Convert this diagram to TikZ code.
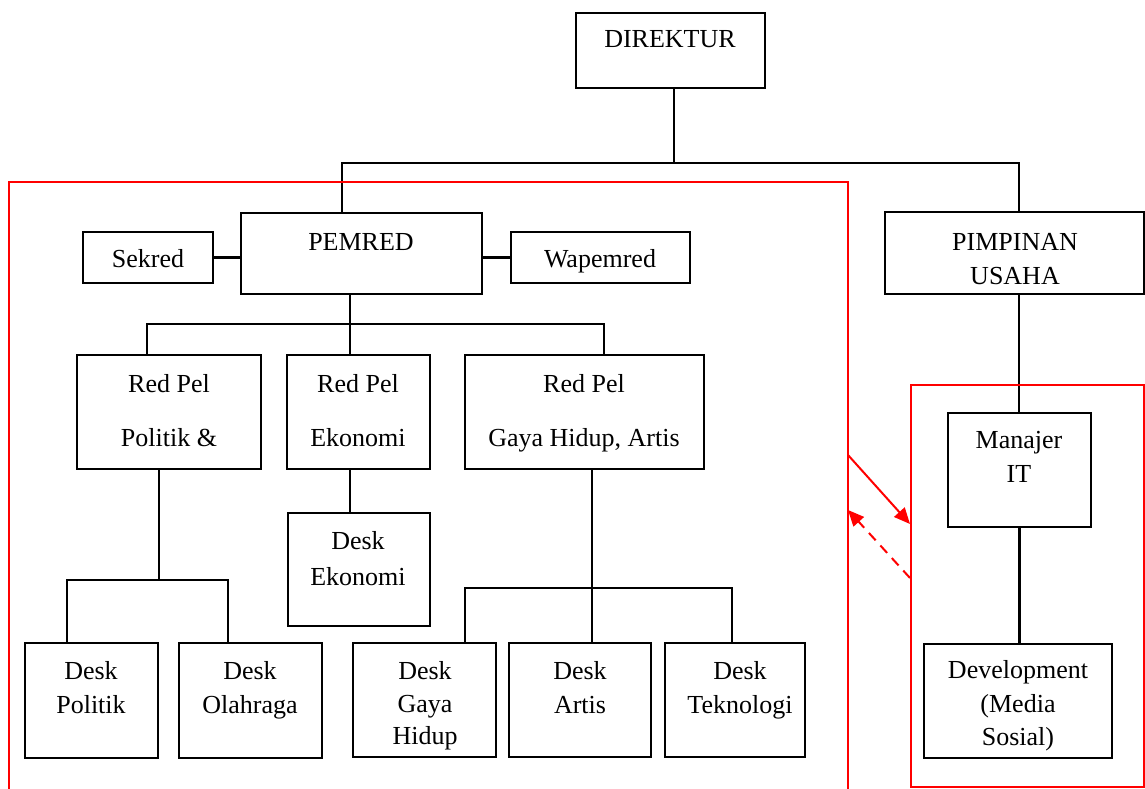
\documentclass[tikz,border=0pt]{standalone}
\usepackage{fontspec}
\setmainfont{Liberation Serif}
\usetikzlibrary{arrows.meta}
\newcommand\mkbox[5]{\node[box, minimum width={#4-#2}, minimum height={#5-#3}] (#1) at ({(#2+#4)/2},{(#3+#5)/2}) {};}
\begin{document}
\begin{tikzpicture}[x=1pt,y=-1pt,
  box/.style={draw=black, line width=2.5pt, rectangle, inner sep=0pt, outer sep=0pt},
  lbl/.style={font=\fontsize{26}{32}\selectfont, anchor=base, inner sep=0pt},
  conn/.style={draw=black, line width=2.5pt},
  frame/.style={draw=red, line width=2pt},
  redarrow/.style={frame, -{Triangle[length=16pt,width=14pt]}}]
\useasboundingbox (0,0) rectangle (1145,789);
% boxes
\mkbox{dir}{576}{13}{765}{88}
\mkbox{pemred}{241}{213}{482}{294}
\mkbox{sek}{83}{232}{213}{283}
\mkbox{wap}{511}{232}{690}{283}
\mkbox{pim}{885}{212}{1144}{294}
\mkbox{rp1}{77}{355}{261}{469}
\mkbox{rp2}{287}{355}{430}{469}
\mkbox{rp3}{465}{355}{704}{469}
\mkbox{dek}{288}{513}{430}{626}
\mkbox{dpol}{25}{643}{158}{758}
\mkbox{dola}{179}{643}{322}{758}
\mkbox{dgay}{353}{643}{496}{757}
\mkbox{dart}{509}{643}{651}{757}
\mkbox{dtek}{665}{643}{805}{757}
\mkbox{mit}{948}{413}{1091}{527}
\mkbox{dev}{924}{644}{1112}{758}
% texts
\node[lbl] (t-dir) at (670,48) {DIREKTUR};
\node[lbl] (t-pem) at (361,250) {PEMRED};
\node[lbl] (t-sek) at (148,267) {Sekred};
\node[lbl] (t-wap) at (600,267) {Wapemred};
\node[lbl] (t-pim1) at (1015,250) {PIMPINAN};
\node[lbl] (t-pim2) at (1015,284) {USAHA};
\node[lbl] (t-rp1a) at (169,392) {Red Pel};
\node[lbl] (t-rp1b) at (169,446) {Politik \&};
\node[lbl] (t-rp2a) at (358,392) {Red Pel};
\node[lbl] (t-rp2b) at (358,446) {Ekonomi};
\node[lbl] (t-rp3a) at (584,392) {Red Pel};
\node[lbl] (t-rp3b) at (584,446) {Gaya Hidup, Artis};
\node[lbl] (t-deka) at (358,549) {Desk};
\node[lbl] (t-dekb) at (358,585) {Ekonomi};
\node[lbl] (t-dpola) at (91,679) {Desk};
\node[lbl] (t-dpolb) at (91,713) {Politik};
\node[lbl] (t-dolaa) at (250,679) {Desk};
\node[lbl] (t-dolab) at (250,713) {Olahraga};
\node[lbl] (t-dgaya) at (425,679) {Desk};
\node[lbl] (t-dgayb) at (425,712) {Gaya};
\node[lbl] (t-dgayc) at (425,744) {Hidup};
\node[lbl] (t-darta) at (580,679) {Desk};
\node[lbl] (t-dartb) at (580,713) {Artis};
\node[lbl] (t-dteka) at (740,679) {Desk};
\node[lbl] (t-dtekb) at (740,713) {Teknologi};
\node[lbl] (t-mita) at (1019,448) {Manajer};
\node[lbl] (t-mitb) at (1019,482) {IT};
\node[lbl] (t-deva) at (1018,678) {Development};
\node[lbl] (t-devb) at (1018,712) {(Media};
\node[lbl] (t-devc) at (1018,745) {Sosial)};
% connectors top
\coordinate (dirS) at ([xshift=3.5]dir.south);
\coordinate (pemN) at ([xshift=-19.5]pemred.north);
\coordinate (pimN) at ([xshift=4.5]pim.north);
\coordinate (bus1) at (674,163);
\draw[conn] (dirS) -- (bus1);
\draw[conn] (pemN) |- (bus1 -| pimN) -- (pimN);
\draw[conn] (sek.east) -- (sek.east -| pemred.west);
\draw[conn] (wap.west) -- (wap.west -| pemred.east);
% pemred to red pel
\coordinate (pemS) at ([xshift=-11.5]pemred.south);
\coordinate (rp1N) at ([xshift=-22]rp1.north);
\coordinate (rp2N) at ([xshift=-8.5]rp2.north);
\coordinate (rp3N) at ([xshift=19.5]rp3.north);
\coordinate (bus2) at (350,324);
\draw[conn] (pemS) -- (bus2);
\draw[conn] (rp1N) |- (bus2 -| rp3N) -- (rp3N);
\draw[conn] (bus2) -- (rp2N);
% politik
\coordinate (rp1S) at ([xshift=-10]rp1.south);
\coordinate (bus3) at (159,580);
\coordinate (dpolN) at ([xshift=-24.5]dpol.north);
\coordinate (dolaN) at ([xshift=-22.5]dola.north);
\draw[conn] (rp1S) -- (bus3);
\draw[conn] (dpolN) |- (bus3 -| dolaN) -- (dolaN);
% ekonomi
\coordinate (rp2S) at ([xshift=-8.5]rp2.south);
\coordinate (dekN) at ([xshift=-9]dek.north);
\draw[conn] (rp2S) -- (dekN);
% gaya hidup
\coordinate (rp3S) at ([xshift=7.5]rp3.south);
\coordinate (dartN) at ([xshift=12]dart.north);
\coordinate (dgayN) at ([xshift=40.5]dgay.north);
\coordinate (dtekN) at ([xshift=-3]dtek.north);
\coordinate (bus4) at (592,588);
\draw[conn] (rp3S) -- (dartN);
\draw[conn] (dgayN) |- (bus4 -| dtekN) -- (dtekN);
% usaha
\coordinate (pimS) at ([xshift=4.5]pim.south);
\draw[conn] (pimS) -- (pimS |- mit.north);
\draw[conn] (mit.south) -- (mit.south |- dev.north);
% red frames
\draw[frame] (9,789) -- (9,182) -- (848,182) -- (848,789);
\draw[frame] (911,385) rectangle (1144,787);
\coordinate (a1s) at (848,455);
\coordinate (a1e) at (910,524);
\coordinate (a2s) at (910,578);
\coordinate (a2e) at (848,510);
\draw[redarrow] (a1s) -- (a1e);
\draw[redarrow, dash pattern=on 10pt off 7pt] (a2s) -- (a2e);
\end{tikzpicture}
\end{document}
